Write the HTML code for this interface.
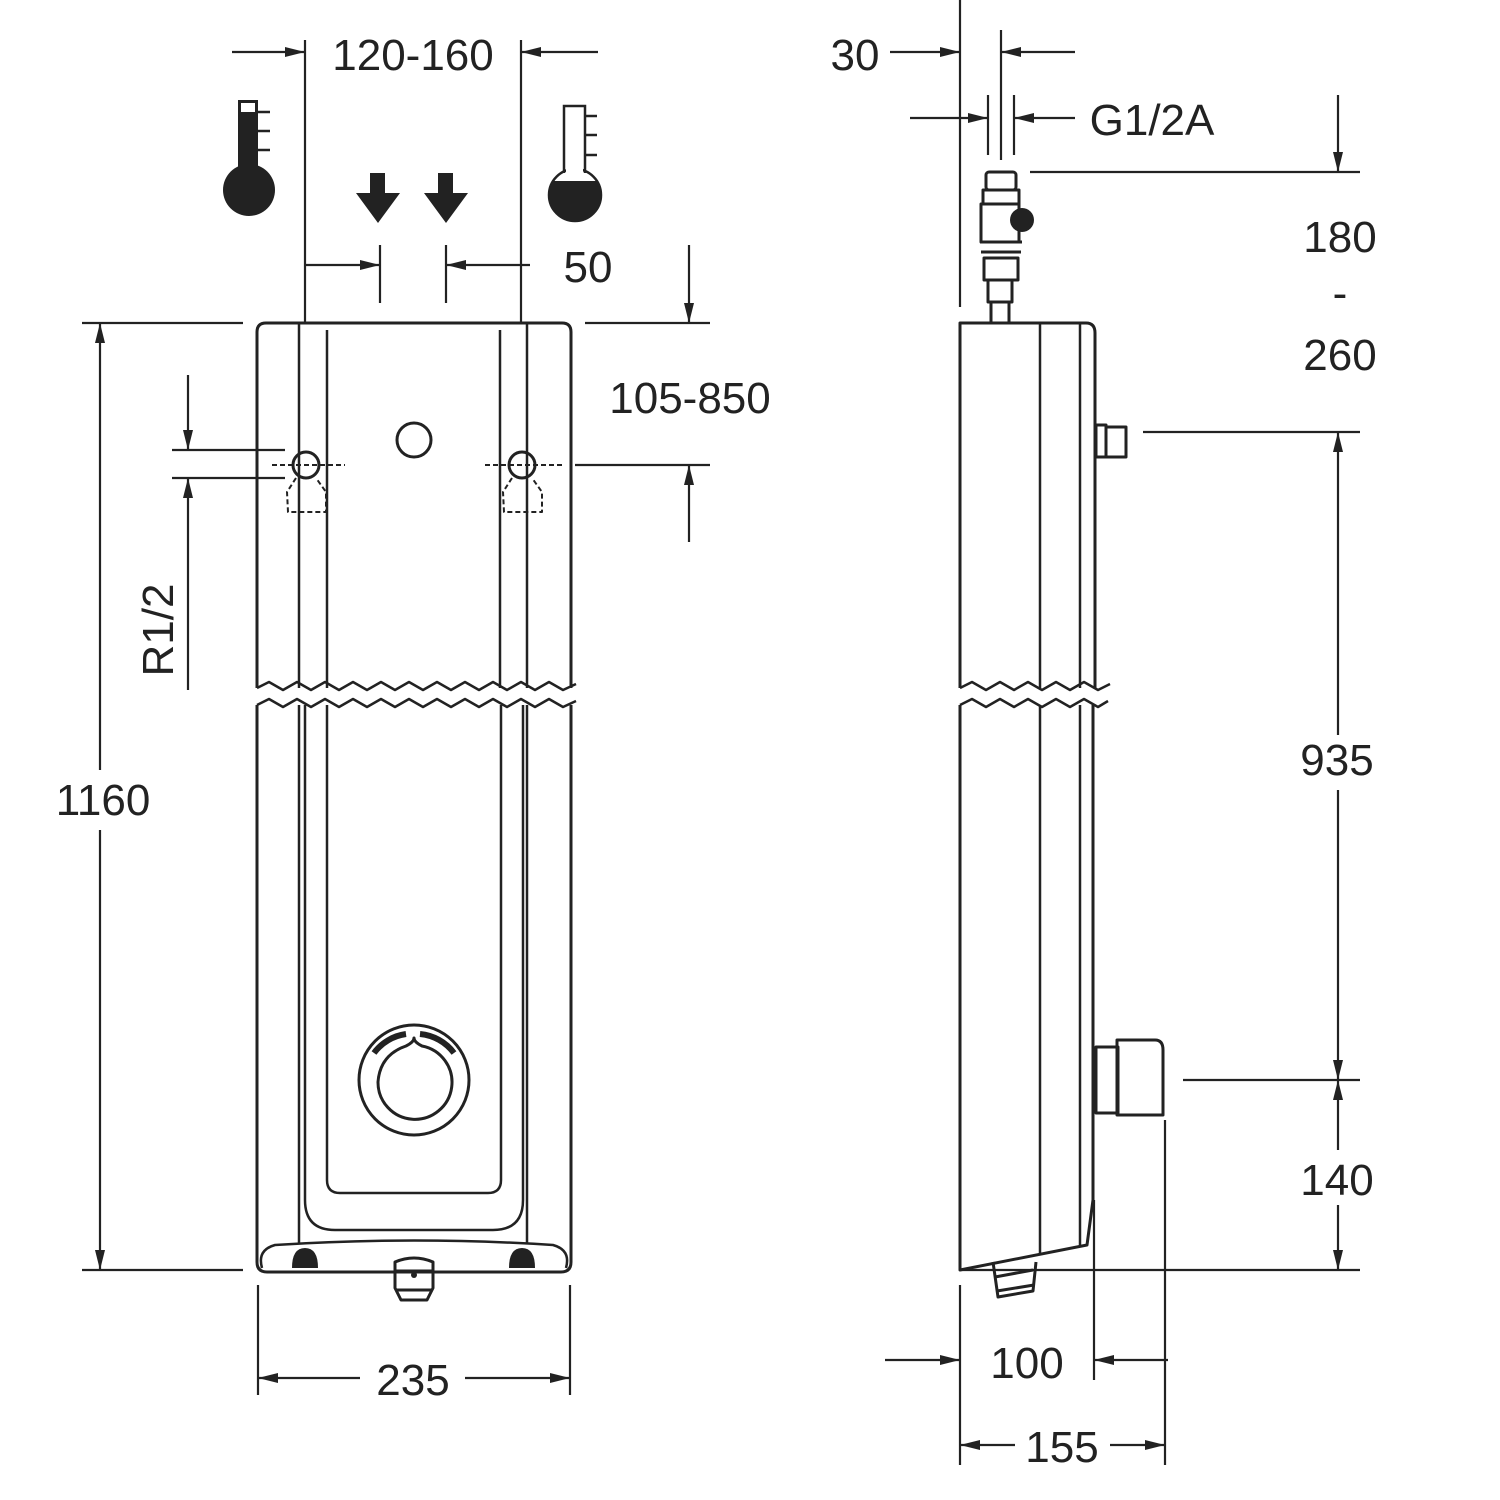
<!DOCTYPE html>
<html><head><meta charset="utf-8"><style>html,body{margin:0;padding:0;background:#fff}svg{display:block}</style></head><body>
<svg width="1500" height="1500" viewBox="0 0 1500 1500" xmlns="http://www.w3.org/2000/svg">
<defs>
<marker id="a" viewBox="0 0 20 10" refX="20" refY="5" markerWidth="20" markerHeight="10" markerUnits="userSpaceOnUse" orient="auto"><path d="M0,0 L20,5 L0,10 Z" fill="#222"/></marker>
<clipPath id="bc"><rect x="540" y="181" width="80" height="60"/></clipPath>
</defs>
<g stroke="#222" fill="none" stroke-width="3" stroke-linejoin="round">
<path d="M257,688 L257,332 Q257,323 266,323 L562,323 Q571,323 571,332 L571,688"/>
<path d="M257,705 L257,1262 Q257,1272 267,1272 L561,1272 Q571,1272 571,1262 L571,705"/>
<path d="M257,688 l12,-6 l14,8 l14,-8 l14,8 l14,-8 l14,8 l14,-8 l14,8 l14,-8 l14,8 l14,-8 l14,8 l14,-8 l14,8 l14,-8 l14,8 l14,-8 l14,8 l14,-8 l14,8 l14,-8 l14,8 l13,-6" stroke-width="2.5"/>
<path d="M257,705 l12,-6 l14,8 l14,-8 l14,8 l14,-8 l14,8 l14,-8 l14,8 l14,-8 l14,8 l14,-8 l14,8 l14,-8 l14,8 l14,-8 l14,8 l14,-8 l14,8 l14,-8 l14,8 l14,-8 l14,8 l13,-6" stroke-width="2.5"/>
<g stroke-width="2.5">
<line x1="299" y1="323" x2="299" y2="688"/><line x1="327" y1="330" x2="327" y2="688"/>
<line x1="500" y1="330" x2="500" y2="688"/><line x1="527" y1="323" x2="527" y2="688"/>
<line x1="299" y1="705" x2="299" y2="1243"/><line x1="527" y1="705" x2="527" y2="1243"/>
<path d="M305,705 L305,1200 Q305,1230 335,1230 L493,1230 Q523,1230 523,1200 L523,705"/>
<path d="M327,705 L327,1180 Q327,1193 340,1193 L488,1193 Q501,1193 501,1180 L501,705"/>
<path d="M262,1268 Q257,1250 275,1245 Q414,1236 553,1245 Q571,1250 566,1268"/>
</g>
<circle cx="414" cy="440" r="17"/>
<circle cx="306" cy="465" r="13"/><circle cx="522" cy="465" r="13"/>
<g stroke-width="2" stroke-dasharray="5,3">
<line x1="272" y1="465" x2="345" y2="465"/><line x1="485" y1="465" x2="565" y2="465"/>
<path d="M296,478 L287,492 L288,512 L326,512 L326,492 L316,478"/>
<path d="M512,478 L503,492 L504,512 L542,512 L542,492 L532,478"/>
</g>
<circle cx="414" cy="1080" r="55" stroke-width="3"/>
<path d="M406,1046 Q380,1055 378,1082 A37,37 0 1 0 422,1046 Q414,1042 414,1038 Q414,1042 406,1046 Z" stroke-width="3"/>
<path d="M374,1053 A48,48 0 0 1 406,1034" stroke-width="6"/>
<path d="M420,1034 A48,48 0 0 1 454,1053" stroke-width="6"/>
<path d="M395,1262 Q414,1254 433,1262 L433,1288 L427,1300 L401,1300 L395,1288 Z"/>
<line x1="396" y1="1271" x2="432" y2="1271"/><line x1="397" y1="1290" x2="431" y2="1290"/>
</g>
<g fill="#222">
<circle cx="414" cy="1275" r="3"/>
<path d="M292,1268 Q292,1248 305,1248 Q318,1248 318,1268 Z"/>
<path d="M509,1268 Q509,1248 522,1248 Q535,1248 535,1268 Z"/>
<path d="M370,173 h15 v20 h15 l-22,30 l-22,-30 h14 z"/>
<path d="M438,173 h15 v20 h15 l-22,30 l-22,-30 h14 z"/>
<!-- left thermometer -->
<circle cx="249" cy="190" r="26"/>
<rect x="238" y="100" width="20" height="75"/>
<!-- right thermometer bulb fill -->
<circle cx="575" cy="195" r="27" clip-path="url(#bc)"/>
</g>
<rect x="241" y="103" width="14" height="9" fill="#fff"/>
<g stroke="#222" fill="none" stroke-width="2.5">
<line x1="258" y1="112" x2="270" y2="112"/><line x1="258" y1="131" x2="270" y2="131"/><line x1="258" y1="150" x2="270" y2="150"/>
<path d="M564,173 L564,106 L585,106 L585,173"/>
<circle cx="575" cy="195" r="26"/>
<line x1="585" y1="116" x2="597" y2="116"/><line x1="585" y1="135" x2="597" y2="135"/><line x1="585" y1="155" x2="597" y2="155"/>
</g>
<rect x="566" y="160" width="17" height="16" fill="#fff"/>
<g stroke="#222" stroke-width="2.2" fill="none">
<line x1="305" y1="40" x2="305" y2="323"/><line x1="521" y1="40" x2="521" y2="323"/>
<line x1="232" y1="52" x2="305" y2="52" marker-end="url(#a)"/><line x1="598" y1="52" x2="521" y2="52" marker-end="url(#a)"/>
<line x1="380" y1="245" x2="380" y2="303"/><line x1="446" y1="245" x2="446" y2="303"/>
<line x1="305" y1="265" x2="380" y2="265" marker-end="url(#a)"/><line x1="530" y1="265" x2="446" y2="265" marker-end="url(#a)"/>
<line x1="82" y1="323" x2="243" y2="323"/><line x1="82" y1="1270" x2="243" y2="1270"/>
<line x1="100" y1="770" x2="100" y2="323" marker-end="url(#a)"/><line x1="100" y1="830" x2="100" y2="1270" marker-end="url(#a)"/>
<line x1="172" y1="450" x2="285" y2="450"/><line x1="172" y1="478" x2="285" y2="478"/>
<line x1="188" y1="375" x2="188" y2="450" marker-end="url(#a)"/><line x1="188" y1="690" x2="188" y2="478" marker-end="url(#a)"/>
<line x1="585" y1="323" x2="710" y2="323"/><line x1="575" y1="465" x2="710" y2="465"/>
<line x1="689" y1="245" x2="689" y2="323" marker-end="url(#a)"/><line x1="689" y1="542" x2="689" y2="465" marker-end="url(#a)"/>
<line x1="258" y1="1285" x2="258" y2="1395"/><line x1="570" y1="1285" x2="570" y2="1395"/>
<line x1="360" y1="1378" x2="258" y2="1378" marker-end="url(#a)"/><line x1="465" y1="1378" x2="570" y2="1378" marker-end="url(#a)"/>
</g>
<g stroke="#222" fill="none" stroke-width="3" stroke-linejoin="round">
<path d="M960,688 L960,323 L1086,323 Q1095,323 1095,333 L1095,688"/>
<path d="M960,705 L960,1270 L1087,1245 L1093,1200 L1093,705"/>
<path d="M960,688 l12,-6 l14,8 l14,-8 l14,8 l14,-8 l14,8 l14,-8 l14,8 l14,-8 l14,8 l12,-6" stroke-width="2.5"/>
<path d="M960,705 l12,-6 l14,8 l14,-8 l14,8 l14,-8 l14,8 l14,-8 l14,8 l14,-8 l14,8 l10,-6" stroke-width="2.5"/>
<g stroke-width="2.5">
<line x1="1040" y1="323" x2="1040" y2="688"/><line x1="1080" y1="323" x2="1080" y2="688"/>
<line x1="1040" y1="705" x2="1040" y2="1255"/><line x1="1080" y1="705" x2="1080" y2="1247"/>
</g>
<rect x="986" y="172" width="30" height="18" rx="3"/>
<rect x="983" y="190" width="36" height="14"/>
<rect x="981" y="204" width="38" height="38"/>
<line x1="980" y1="242" x2="1022" y2="242"/><line x1="981" y1="252" x2="1021" y2="252"/>
<rect x="984" y="258" width="34" height="22"/>
<rect x="988" y="280" width="24" height="22"/>
<rect x="991" y="302" width="18" height="21"/>
<rect x="1096" y="425" width="10" height="32"/><rect x="1106" y="427" width="20" height="30"/>
<rect x="1096" y="1047" width="22" height="66"/>
<path d="M1117,1040 L1155,1040 Q1163,1040 1163,1050 L1163,1115 L1117,1115 Z"/>
<path d="M993,1262 L998,1297 L1033,1291 L1036,1262"/>
<line x1="995" y1="1277" x2="1033" y2="1270"/><line x1="997" y1="1291" x2="1034" y2="1285"/>
</g>
<circle cx="1022" cy="220" r="12" fill="#222"/>
<g stroke="#222" stroke-width="2.2" fill="none">
<line x1="960" y1="0" x2="960" y2="307"/><line x1="1001" y1="30" x2="1001" y2="160"/>
<line x1="890" y1="52" x2="960" y2="52" marker-end="url(#a)"/><line x1="1075" y1="52" x2="1001" y2="52" marker-end="url(#a)"/>
<line x1="988" y1="95" x2="988" y2="155"/><line x1="1014" y1="95" x2="1014" y2="155"/>
<line x1="910" y1="118" x2="988" y2="118" marker-end="url(#a)"/><line x1="1075" y1="118" x2="1014" y2="118" marker-end="url(#a)"/>
<line x1="1030" y1="172" x2="1360" y2="172"/>
<line x1="1338" y1="95" x2="1338" y2="172" marker-end="url(#a)"/>
<line x1="1143" y1="432" x2="1360" y2="432"/>
<line x1="1338" y1="735" x2="1338" y2="432" marker-end="url(#a)"/><line x1="1338" y1="790" x2="1338" y2="1080" marker-end="url(#a)"/>
<line x1="1183" y1="1080" x2="1360" y2="1080"/><line x1="960" y1="1270" x2="1360" y2="1270"/>
<line x1="1338" y1="1150" x2="1338" y2="1080" marker-end="url(#a)"/><line x1="1338" y1="1205" x2="1338" y2="1270" marker-end="url(#a)"/>
<line x1="960" y1="1285" x2="960" y2="1465"/><line x1="1094" y1="1200" x2="1094" y2="1380"/><line x1="1165" y1="1120" x2="1165" y2="1465"/>
<line x1="885" y1="1360" x2="960" y2="1360" marker-end="url(#a)"/><line x1="1168" y1="1360" x2="1094" y2="1360" marker-end="url(#a)"/>
<line x1="1015" y1="1445" x2="960" y2="1445" marker-end="url(#a)"/><line x1="1110" y1="1445" x2="1165" y2="1445" marker-end="url(#a)"/>
</g>
<g font-family="Liberation Sans, sans-serif" font-size="44" fill="#222" text-anchor="middle">
<text x="413" y="70">120-160</text>
<text x="588" y="282">50</text>
<text x="690" y="413">105-850</text>
<text x="103" y="815">1160</text>
<text x="0" y="0" transform="translate(173,630) rotate(-90)">R1/2</text>
<text x="413" y="1395">235</text>
<text x="855" y="70">30</text>
<text x="1152" y="135">G1/2A</text>
<text x="1340" y="252">180</text>
<text x="1340" y="308">-</text>
<text x="1340" y="370">260</text>
<text x="1337" y="775">935</text>
<text x="1337" y="1195">140</text>
<text x="1027" y="1378">100</text>
<text x="1062" y="1462">155</text>
</g>
</svg>
</body></html>
